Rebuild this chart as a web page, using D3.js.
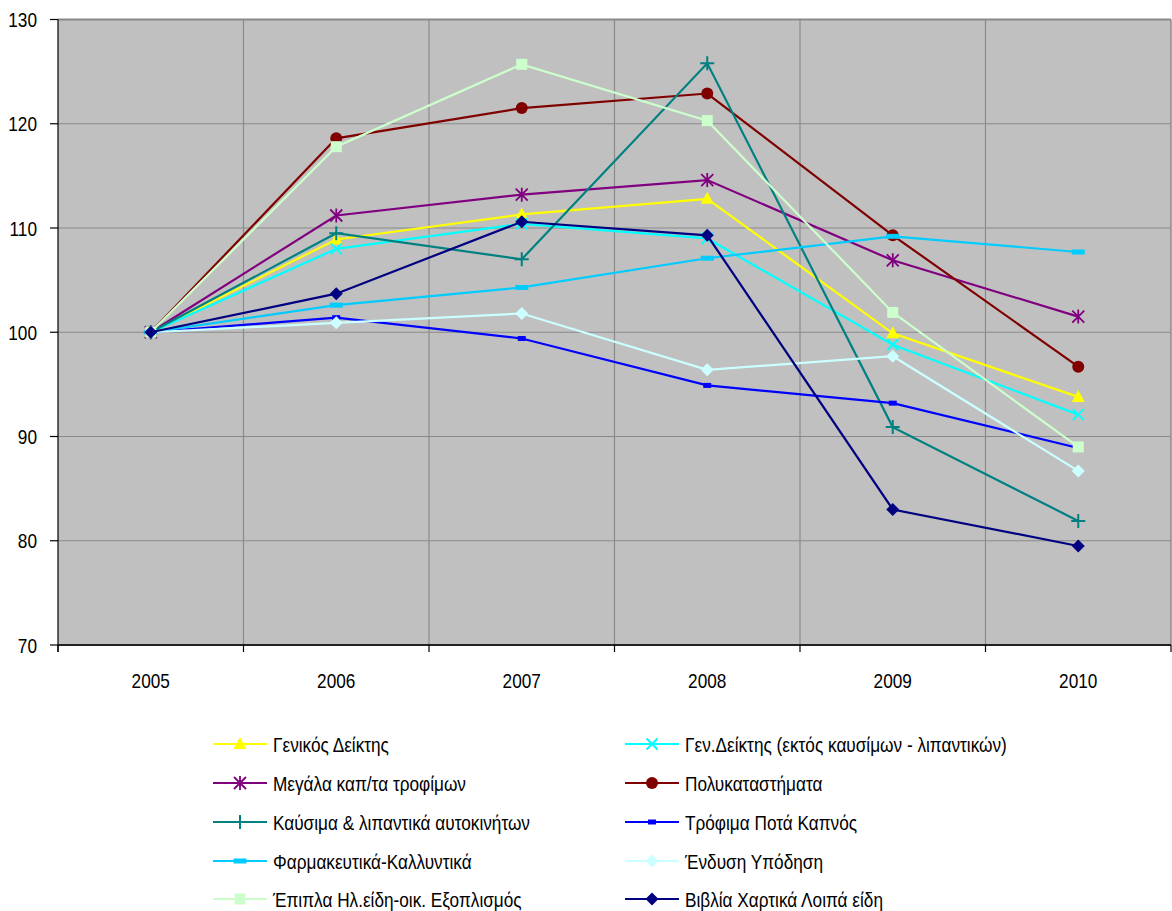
<!DOCTYPE html>
<html><head><meta charset="utf-8">
<script src="https://cdn.jsdelivr.net/npm/d3@7"></script>
<style>
html,body{margin:0;padding:0;background:#fff;}
svg{display:block;}
text{font-family:"Liberation Sans",Arial,sans-serif;fill:#000;}
</style></head>
<body>
<svg id="chart" width="1172" height="911"></svg>
<script>
const years = ["2005","2006","2007","2008","2009","2010"];
const yTicks = [70,80,90,100,110,120,130];

const names = [
  "Γενικός Δείκτης",
  "Γεν.Δείκτης (εκτός καυσίμων  - λιπαντικών)",
  "Μεγάλα καπ/τα τροφίμων",
  "Πολυκαταστήματα",
  "Καύσιμα & λιπαντικά αυτοκινήτων",
  "Τρόφιμα Ποτά Καπνός",
  "Φαρμακευτικά-Καλλυντικά",
  "Ένδυση Υπόδηση",
  "Έπιπλα Ηλ.είδη-οικ. Εξοπλισμός",
  "Βιβλία Χαρτικά Λοιπά είδη"
];

const genikos      = [100, 108.9, 111.3, 112.8, 99.9, 93.8];
const genEktos     = [100, 108.0, 110.4, 109.0, 98.8, 92.1];
const megala       = [100, 111.2, 113.2, 114.6, 106.9, 101.5];
const polykat      = [100, 118.6, 121.5, 122.9, 109.3, 96.7];
const kafsima      = [100, 109.5, 107.0, 125.8, 90.9, 81.9];
const trofima      = [100, 101.4, 99.4, 94.9, 93.2, 88.9];
const farmak       = [100, 102.6, 104.3, 107.1, 109.2, 107.7];
const endysi       = [100, 100.9, 101.8, 96.4, 97.7, 86.7];
const epipla       = [100, 117.8, 125.7, 120.3, 101.9, 89.0];
const vivlia       = [100, 103.7, 110.6, 109.3, 83.0, 79.5];

const seriesValues = [genikos, genEktos, megala, polykat, kafsima, trofima, farmak, endysi, epipla, vivlia];
const colors  = ["#FFFF00","#00FFFF","#800080","#800000","#008080","#0000FF","#00CCFF","#CCFFFF","#CCFFCC","#000080"];
const markers = ["triangle","x","asterisk","circle","plus","dashS","dashL","diamond","square","diamond"];

const svg = d3.select("#chart");
const L = 58, R = 1171, T = 19.5, B = 645;

const x = d3.scaleBand().domain(years).range([L, R]).padding(0);
const xc = d => x(d) + x.bandwidth()/2;
const y = d3.scaleLinear().domain([70,130]).range([B, T]);

const SX = 0.82;
function txt(g, px, py, s, anchor, size){
  return g.append("text")
    .attr("transform", `translate(${px},${py}) scale(${SX},1)`)
    .attr("text-anchor", anchor)
    .attr("font-size", size)
    .text(s);
}

// plot background
svg.append("rect").attr("x", L).attr("y", T).attr("width", R-L).attr("height", B-T).attr("fill", "#C0C0C0");

// horizontal gridlines
svg.append("g").selectAll("line").data(yTicks.filter(v => v > 70)).join("line")
  .attr("x1", L).attr("x2", R).attr("y1", d => y(d)).attr("y2", d => y(d))
  .attr("stroke", "#8a8a8a").attr("stroke-width", d => d === 130 ? 2 : 1.2);

// vertical gridlines at category boundaries
const bounds = years.slice(1).map(d => x(d));
svg.append("g").selectAll("line").data(bounds).join("line")
  .attr("x1", d => d).attr("x2", d => d).attr("y1", T).attr("y2", B)
  .attr("stroke", "#8a8a8a").attr("stroke-width", 1.2);
svg.append("line").attr("x1", R).attr("x2", R).attr("y1", T).attr("y2", B)
  .attr("stroke", "#8a8a8a").attr("stroke-width", 1.5);

// axes
svg.append("line").attr("x1", L).attr("x2", L).attr("y1", T).attr("y2", B + 7).attr("stroke", "#000").attr("stroke-width", 1.2);
svg.append("line").attr("x1", L).attr("x2", R).attr("y1", B).attr("y2", B).attr("stroke", "#222").attr("stroke-width", 2);

// y ticks and labels
const gy = svg.append("g");
yTicks.forEach(v => {
  gy.append("line").attr("x1", L - 8).attr("x2", L).attr("y1", y(v)).attr("y2", y(v)).attr("stroke", "#000").attr("stroke-width", 1.2);
  txt(gy, 37, y(v) + 7.5, String(v), "end", 21);
});

// x ticks and labels
const gx = svg.append("g");
years.concat(["end"]).forEach((d, i) => {
  const px = i < years.length ? x(d) : R;
  gx.append("line").attr("x1", px).attr("x2", px).attr("y1", B).attr("y2", B + 7).attr("stroke", "#000").attr("stroke-width", 1.2);
});
years.forEach(d => txt(gx, xc(d), 688, d, "middle", 21));

// marker drawing
function drawMarker(g, type, color, cx, cy){
  const m = g.append("g").attr("transform", `translate(${cx},${cy})`);
  switch(type){
    case "triangle":
      m.append("path").attr("d", "M0,-7L6.5,5L-6.5,5Z").attr("fill", color); break;
    case "x":
      m.append("path").attr("d", "M-5.5,-5.5L5.5,5.5M-5.5,5.5L5.5,-5.5").attr("stroke", color).attr("stroke-width", 2); break;
    case "asterisk":
      m.append("path").attr("d", "M0,-7L0,7M-6,-6L6,6M-6,6L6,-6").attr("stroke", color).attr("stroke-width", 1.8); break;
    case "circle":
      m.append("circle").attr("r", 6).attr("fill", color); break;
    case "plus":
      m.append("path").attr("d", "M0,-7L0,7M-7,0L7,0").attr("stroke", color).attr("stroke-width", 2); break;
    case "dashS":
      m.append("rect").attr("x", -4).attr("y", -2.5).attr("width", 8).attr("height", 5).attr("fill", color); break;
    case "dashL":
      m.append("rect").attr("x", -6.5).attr("y", -2.5).attr("width", 13).attr("height", 5).attr("fill", color); break;
    case "diamond":
      m.append("path").attr("d", "M0,-6.5L6.5,0L0,6.5L-6.5,0Z").attr("fill", color); break;
    case "square":
      m.append("rect").attr("x", -5.5).attr("y", -5.5).attr("width", 11).attr("height", 11).attr("fill", color); break;
  }
}

// series
const line = d3.line().x((d, i) => xc(years[i])).y(d => y(d));
const gs = svg.append("g");
seriesValues.forEach((vals, k) => {
  const g = gs.append("g");
  g.append("path").attr("d", line(vals)).attr("fill", "none").attr("stroke", colors[k]).attr("stroke-width", 2.2);
  vals.forEach((v, i) => drawMarker(g, markers[k], colors[k], xc(years[i]), y(v)));
});

// legend
const lg = svg.append("g");
const rowY = [744, 783, 822, 861, 899];
seriesValues.forEach((vals, k) => {
  const col = k % 2, row = Math.floor(k / 2);
  const x0 = col === 0 ? 213 : 625;
  const ly = rowY[row];
  lg.append("line").attr("x1", x0).attr("x2", x0 + 54).attr("y1", ly).attr("y2", ly).attr("stroke", colors[k]).attr("stroke-width", 2.2);
  drawMarker(lg, markers[k], colors[k], x0 + 27, ly);
  txt(lg, x0 + 60, ly + 7.5, names[k], "start", 21);
});
</script>
</body></html>
